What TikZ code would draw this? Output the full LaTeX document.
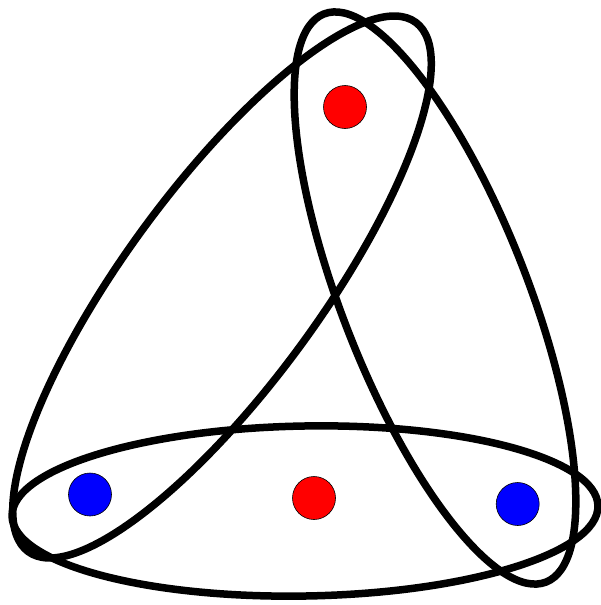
\documentclass[tikz,border=0pt]{standalone}
\begin{document}
\begin{tikzpicture}[x=1pt,y=-1pt,
  edgeline/.style={draw=black,line width=7.5pt},
  dot/.style={circle,draw=black,line width=0.6pt,minimum size=43pt,inner sep=0pt}]
\useasboundingbox (0,0) rectangle (600,605);
% hyperedges
\draw[edgeline,rotate around={1:(305,511)}] (305,511) ellipse [x radius=293,y radius=85];
\draw[edgeline,rotate around={53.8:(222,287)}] (222,287) ellipse [x radius=328,y radius=98];
\draw[edgeline,rotate around={-68.65:(435,298)}] (435,298) ellipse [x radius=305,y radius=93];
% vertices
\node[dot,fill=red] (rtop) at (345,107) {};
\node[dot,fill=blue] (bleft) at (90,494.5) {};
\node[dot,fill=red] (rbot) at (314,498) {};
\node[dot,fill=blue] (bright) at (517.7,504) {};
\end{tikzpicture}
\end{document}
